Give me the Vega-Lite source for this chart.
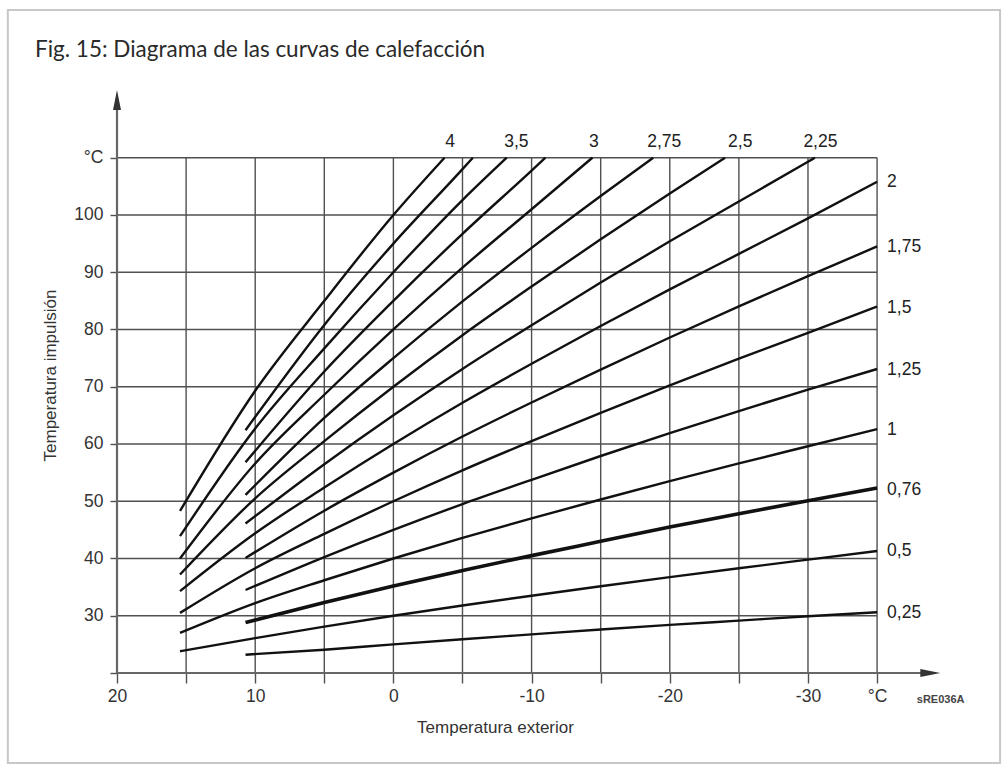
{
  "$schema": "https://vega.github.io/schema/vega-lite/v6.json",
  "width": 826,
  "height": 584,
  "autosize": {"type": "none"},
  "padding": {"left": 117, "top": 89, "right": 65, "bottom": 96},
  "background": "white",
  "config": {"view": {"stroke": null}, "font": "Liberation Sans"},
  "title": {
    "text": "Fig. 15: Diagrama de las curvas de calefacción",
    "anchor": "start",
    "frame": "group",
    "dx": -82,
    "offset": -71,
    "baseline": "alphabetic",
    "font": "Lato",
    "fontSize": 22.5,
    "fontWeight": "normal",
    "color": "#2a2a2a"
  },
  "datasets": {
    "gx": [{"t": 15}, {"t": 10}, {"t": 5}, {"t": 0}, {"t": -5}, {"t": -10}, {"t": -15}, {"t": -20}, {"t": -25}, {"t": -30}, {"t": -35}],
    "gy": [{"v": 30}, {"v": 40}, {"v": 50}, {"v": 60}, {"v": 70}, {"v": 80}, {"v": 90}, {"v": 100}, {"v": 110}],
    "curves": [
      {"c": "4", "t": 15.44, "v": 48.3}, {"c": "4", "t": 10, "v": 69.3}, {"c": "4", "t": 5, "v": 85}, {"c": "4", "t": 0, "v": 100}, {"c": "4", "t": -3.7, "v": 110},
      {"c": "3,75", "t": 10.7, "v": 62.4}, {"c": "3,75", "t": 5, "v": 80.8}, {"c": "3,75", "t": 0, "v": 95}, {"c": "3,75", "t": -5, "v": 108}, {"c": "3,75", "t": -5.75, "v": 110},
      {"c": "3,5", "t": 15.44, "v": 43.9}, {"c": "3,5", "t": 10, "v": 62.7}, {"c": "3,5", "t": 5, "v": 76.7}, {"c": "3,5", "t": 0, "v": 90}, {"c": "3,5", "t": -5, "v": 102.6}, {"c": "3,5", "t": -8.2, "v": 110},
      {"c": "3,25", "t": 10.7, "v": 56.8}, {"c": "3,25", "t": 5, "v": 72.65}, {"c": "3,25", "t": 0, "v": 85}, {"c": "3,25", "t": -5, "v": 96.7}, {"c": "3,25", "t": -10, "v": 107.75}, {"c": "3,25", "t": -11, "v": 110},
      {"c": "3", "t": 15.44, "v": 40}, {"c": "3", "t": 10, "v": 56.6}, {"c": "3", "t": 5, "v": 68.6}, {"c": "3", "t": 0, "v": 80}, {"c": "3", "t": -5, "v": 90.8}, {"c": "3", "t": -10, "v": 101}, {"c": "3", "t": -14.4, "v": 110},
      {"c": "2,75", "t": 10.7, "v": 51.1}, {"c": "2,75", "t": 5, "v": 64.55}, {"c": "2,75", "t": 0, "v": 75}, {"c": "2,75", "t": -5, "v": 84.9}, {"c": "2,75", "t": -10, "v": 94.25}, {"c": "2,75", "t": -15, "v": 103.3}, {"c": "2,75", "t": -18.8, "v": 110},
      {"c": "2,5", "t": 15.44, "v": 37.2}, {"c": "2,5", "t": 10, "v": 50.5}, {"c": "2,5", "t": 5, "v": 60.5}, {"c": "2,5", "t": 0, "v": 70}, {"c": "2,5", "t": -5, "v": 79}, {"c": "2,5", "t": -10, "v": 87.5}, {"c": "2,5", "t": -15, "v": 95.75}, {"c": "2,5", "t": -20, "v": 103.75}, {"c": "2,5", "t": -24, "v": 110},
      {"c": "2,25", "t": 10.7, "v": 46.1}, {"c": "2,25", "t": 5, "v": 56.45}, {"c": "2,25", "t": 0, "v": 65}, {"c": "2,25", "t": -5, "v": 73.1}, {"c": "2,25", "t": -10, "v": 80.75}, {"c": "2,25", "t": -15, "v": 88.2}, {"c": "2,25", "t": -20, "v": 95.4}, {"c": "2,25", "t": -25, "v": 102.35}, {"c": "2,25", "t": -30, "v": 109.3}, {"c": "2,25", "t": -30.5, "v": 110},
      {"c": "2", "t": 15.44, "v": 34.3}, {"c": "2", "t": 10, "v": 44.4}, {"c": "2", "t": 5, "v": 52.4}, {"c": "2", "t": 0, "v": 60}, {"c": "2", "t": -5, "v": 67.2}, {"c": "2", "t": -10, "v": 74}, {"c": "2", "t": -15, "v": 80.6}, {"c": "2", "t": -20, "v": 87}, {"c": "2", "t": -25, "v": 93.2}, {"c": "2", "t": -30, "v": 99.4}, {"c": "2", "t": -35, "v": 105.8},
      {"c": "1,75", "t": 10.7, "v": 40.1}, {"c": "1,75", "t": 5, "v": 48.35}, {"c": "1,75", "t": 0, "v": 55}, {"c": "1,75", "t": -5, "v": 61.3}, {"c": "1,75", "t": -10, "v": 67.25}, {"c": "1,75", "t": -15, "v": 73}, {"c": "1,75", "t": -20, "v": 78.6}, {"c": "1,75", "t": -25, "v": 84.05}, {"c": "1,75", "t": -30, "v": 89.3}, {"c": "1,75", "t": -35, "v": 94.5},
      {"c": "1,5", "t": 15.44, "v": 30.5}, {"c": "1,5", "t": 10, "v": 38.3}, {"c": "1,5", "t": 5, "v": 44.3}, {"c": "1,5", "t": 0, "v": 50}, {"c": "1,5", "t": -5, "v": 55.4}, {"c": "1,5", "t": -10, "v": 60.5}, {"c": "1,5", "t": -15, "v": 65.45}, {"c": "1,5", "t": -20, "v": 70.25}, {"c": "1,5", "t": -25, "v": 74.9}, {"c": "1,5", "t": -30, "v": 79.4}, {"c": "1,5", "t": -35, "v": 84},
      {"c": "1,25", "t": 10.7, "v": 34.5}, {"c": "1,25", "t": 5, "v": 40.25}, {"c": "1,25", "t": 0, "v": 45}, {"c": "1,25", "t": -5, "v": 49.5}, {"c": "1,25", "t": -10, "v": 53.75}, {"c": "1,25", "t": -15, "v": 57.9}, {"c": "1,25", "t": -20, "v": 61.9}, {"c": "1,25", "t": -25, "v": 65.75}, {"c": "1,25", "t": -30, "v": 69.5}, {"c": "1,25", "t": -35, "v": 73.1},
      {"c": "1", "t": 15.44, "v": 27}, {"c": "1", "t": 10, "v": 32.2}, {"c": "1", "t": 5, "v": 36.2}, {"c": "1", "t": 0, "v": 40}, {"c": "1", "t": -5, "v": 43.6}, {"c": "1", "t": -10, "v": 47}, {"c": "1", "t": -15, "v": 50.3}, {"c": "1", "t": -20, "v": 53.5}, {"c": "1", "t": -25, "v": 56.6}, {"c": "1", "t": -30, "v": 59.6}, {"c": "1", "t": -35, "v": 62.6},
      {"c": "0,76", "t": 10.7, "v": 28.8}, {"c": "0,76", "t": 5, "v": 32.3}, {"c": "0,76", "t": 0, "v": 35.2}, {"c": "0,76", "t": -5, "v": 37.9}, {"c": "0,76", "t": -10, "v": 40.5}, {"c": "0,76", "t": -15, "v": 43}, {"c": "0,76", "t": -20, "v": 45.5}, {"c": "0,76", "t": -25, "v": 47.8}, {"c": "0,76", "t": -30, "v": 50.1}, {"c": "0,76", "t": -35, "v": 52.3},
      {"c": "0,5", "t": 15.44, "v": 23.8}, {"c": "0,5", "t": 10, "v": 26.1}, {"c": "0,5", "t": 5, "v": 28.1}, {"c": "0,5", "t": 0, "v": 30}, {"c": "0,5", "t": -5, "v": 31.8}, {"c": "0,5", "t": -10, "v": 33.5}, {"c": "0,5", "t": -15, "v": 35.15}, {"c": "0,5", "t": -20, "v": 36.75}, {"c": "0,5", "t": -25, "v": 38.3}, {"c": "0,5", "t": -30, "v": 39.8}, {"c": "0,5", "t": -35, "v": 41.3},
      {"c": "0,25", "t": 10.7, "v": 23.2}, {"c": "0,25", "t": 5, "v": 24.05}, {"c": "0,25", "t": 0, "v": 25}, {"c": "0,25", "t": -5, "v": 25.9}, {"c": "0,25", "t": -10, "v": 26.75}, {"c": "0,25", "t": -15, "v": 27.6}, {"c": "0,25", "t": -20, "v": 28.4}, {"c": "0,25", "t": -25, "v": 29.15}, {"c": "0,25", "t": -30, "v": 29.9}, {"c": "0,25", "t": -35, "v": 30.6}
    ],
    "toplabels": [
      {"lab": "4", "t": -4.1}, {"lab": "3,5", "t": -8.9}, {"lab": "3", "t": -14.5},
      {"lab": "2,75", "t": -19.6}, {"lab": "2,5", "t": -25.1}, {"lab": "2,25", "t": -30.9}
    ],
    "rightlabels": [
      {"lab": "2", "v": 105.8}, {"lab": "1,75", "v": 94.4}, {"lab": "1,5", "v": 83.7}, {"lab": "1,25", "v": 72.9},
      {"lab": "1", "v": 62.5}, {"lab": "0,76", "v": 52.0}, {"lab": "0,5", "v": 41.3}, {"lab": "0,25", "v": 30.5}
    ]
  },
  "layer": [
    {
      "data": {"values": [{}]},
      "mark": {"type": "rect", "fill": null, "stroke": "#c8c8c8", "strokeWidth": 2},
      "encoding": {
        "x": {"datum": 27.9, "type": "quantitative"},
        "x2": {"datum": -43.9},
        "y": {"datum": 135.8, "type": "quantitative"},
        "y2": {"datum": 4.3}
      }
    },
    {
      "data": {"name": "gx"},
      "mark": {"type": "rule", "color": "#505050", "strokeWidth": 1.4},
      "encoding": {
        "x": {
          "field": "t",
          "type": "quantitative",
          "scale": {"domain": [20, -39.77], "nice": false, "zero": false},
          "axis": {
            "values": [20, 15, 10, 5, 0, -5, -10, -15, -20, -25, -30, -35],
            "labelExpr": "datum.value == -35 ? '°C' : (datum.value % 10 == 0 ? '' + datum.value : '')",
            "domain": false,
            "grid": false,
            "ticks": true,
            "tickSize": 10,
            "tickColor": "#505050",
            "tickWidth": 1.4,
            "labelPadding": 4,
            "labelFont": "Liberation Sans",
            "labelFontSize": 17.5,
            "labelColor": "#333333",
            "labelFlush": false,
            "labelOverlap": false,
            "title": "Temperatura exterior",
            "titleFont": "Liberation Sans",
            "titleFontSize": 17,
            "titleFontWeight": "normal",
            "titleColor": "#333333",
            "titleX": 378,
            "titleY": 54,
            "titleBaseline": "middle",
            "titleAnchor": "middle"
          }
        },
        "y": {
          "datum": 20,
          "type": "quantitative",
          "scale": {"domain": [20, 122], "nice": false, "zero": false},
          "axis": {
            "values": [20, 30, 40, 50, 60, 70, 80, 90, 100, 110],
            "labelExpr": "datum.value == 20 ? '' : (datum.value == 110 ? '°C' : datum.label)",
            "domain": false,
            "grid": false,
            "ticks": true,
            "tickSize": 7,
            "tickColor": "#505050",
            "tickWidth": 1.4,
            "labelPadding": 7,
            "labelFont": "Liberation Sans",
            "labelFontSize": 17.5,
            "labelColor": "#333333",
            "labelFlush": false,
            "labelOverlap": false,
            "title": "Temperatura impulsión",
            "titleFont": "Liberation Sans",
            "titleFontSize": 17,
            "titleFontWeight": "normal",
            "titleColor": "#333333",
            "titleX": -67,
            "titleY": 286,
            "titleAngle": -90,
            "titleAlign": "center",
            "titleBaseline": "middle"
          }
        },
        "y2": {"datum": 110}
      }
    },
    {
      "data": {"name": "gy"},
      "mark": {"type": "rule", "color": "#505050", "strokeWidth": 1.4},
      "encoding": {
        "y": {"field": "v", "type": "quantitative"},
        "x": {"datum": 20, "type": "quantitative"},
        "x2": {"datum": -35}
      }
    },
    {
      "data": {"values": [{}]},
      "mark": {"type": "rule", "color": "#666666", "strokeWidth": 2.2},
      "encoding": {
        "x": {"datum": 20, "type": "quantitative"},
        "x2": {"datum": -38.8},
        "y": {"datum": 20, "type": "quantitative"}
      }
    },
    {
      "data": {"values": [{}]},
      "mark": {"type": "rule", "color": "#666666", "strokeWidth": 2.2},
      "encoding": {
        "x": {"datum": 20, "type": "quantitative"},
        "y": {"datum": 20, "type": "quantitative"},
        "y2": {"datum": 120.2}
      }
    },
    {
      "data": {"values": [{}]},
      "mark": {"type": "point", "shape": "M-1,-0.4L1,0L-1,0.4Z", "filled": true, "color": "#333333", "size": 400, "opacity": 1},
      "encoding": {
        "x": {"datum": -38.85, "type": "quantitative"},
        "y": {"datum": 20, "type": "quantitative"}
      }
    },
    {
      "data": {"values": [{}]},
      "mark": {"type": "point", "shape": "M-0.4,1L0,-1L0.4,1Z", "filled": true, "color": "#333333", "size": 400, "opacity": 1},
      "encoding": {
        "x": {"datum": 20, "type": "quantitative"},
        "y": {"datum": 120.1, "type": "quantitative"}
      }
    },
    {
      "data": {"name": "curves"},
      "mark": {"type": "line", "color": "#111111", "interpolate": "monotone", "strokeCap": "butt"},
      "encoding": {
        "x": {"field": "t", "type": "quantitative"},
        "y": {"field": "v", "type": "quantitative"},
        "detail": {"field": "c"},
        "order": {"field": "t", "sort": "descending"},
        "strokeWidth": {"condition": {"test": "datum.c === '0,76'", "value": 3.6}, "value": 2.4}
      }
    },
    {
      "data": {"name": "toplabels"},
      "mark": {"type": "text", "align": "center", "baseline": "middle", "dy": -16, "fontSize": 17.5, "font": "Liberation Sans", "color": "#222222"},
      "encoding": {
        "x": {"field": "t", "type": "quantitative"},
        "y": {"datum": 110, "type": "quantitative"},
        "text": {"field": "lab"}
      }
    },
    {
      "data": {"name": "rightlabels"},
      "mark": {"type": "text", "align": "left", "baseline": "middle", "dx": 10, "fontSize": 17.5, "font": "Liberation Sans", "color": "#222222"},
      "encoding": {
        "x": {"datum": -35, "type": "quantitative"},
        "y": {"field": "v", "type": "quantitative"},
        "text": {"field": "lab"}
      }
    },
    {
      "data": {"values": [{}]},
      "mark": {"type": "text", "align": "center", "baseline": "middle", "dy": 27, "fontSize": 11, "fontWeight": "bold", "font": "Liberation Sans", "color": "#444444"},
      "encoding": {
        "x": {"datum": -39.6, "type": "quantitative"},
        "y": {"datum": 20, "type": "quantitative"},
        "text": {"value": "sRE036A"}
      }
    }
  ]
}
